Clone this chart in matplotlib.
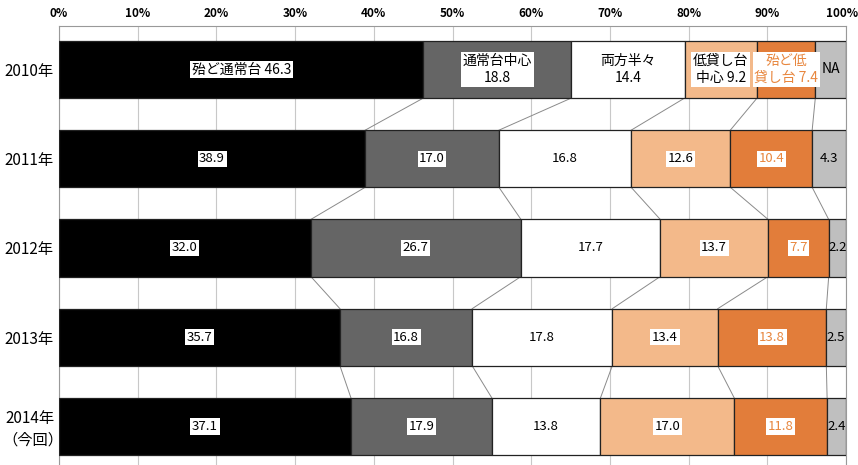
import matplotlib.pyplot as plt
import matplotlib.transforms as mtransforms
import numpy as np

plt.rcParams['font.family'] = ['Noto Sans CJK JP', 'DejaVu Sans']

# Survey answers by year (%)
years = ['2010年', '2011年', '2012年', '2013年', '2014年']
last_note = '（今回）'
mostly_normal = [46.3, 38.9, 32.0, 35.7, 37.1]
normal_center = [18.8, 17.0, 26.7, 16.8, 17.9]
half_half = [14.4, 16.8, 17.7, 17.8, 13.8]
low_center = [9.2, 12.6, 13.7, 13.4, 17.0]
mostly_low = [7.4, 10.4, 7.7, 13.8, 11.8]
na = [3.9, 4.3, 2.2, 2.5, 2.4]

# Category names shown only on the first row
first_row_labels = ['殆ど通常台 46.3', '通常台中心\n18.8', '両方半々\n14.4',
                    '低貸し台\n中心 9.2', '殆ど低\n貸し台 7.4', 'NA']

series = [mostly_normal, normal_center, half_half, low_center, mostly_low, na]
colors = ['#000000', '#656565', '#ffffff', '#f3b98a', '#e27d3a', '#bfbfbf']
text_colors = ['black', 'black', 'black', 'black', '#e8873f', 'black']
boxed = [True, True, False, True, True, False]

fig = plt.figure(figsize=(8.58, 4.65), dpi=100)
ax = fig.add_axes([59 / 858, 0, (846 - 59) / 858, 1 - 26 / 465])

y = np.arange(len(years))
bar_h = 0.64
data = np.array(series)
cum = np.vstack([np.zeros(len(years)), np.cumsum(data, axis=0)])

for i, vals in enumerate(series):
    ax.barh(y, vals, left=cum[i], height=bar_h, color=colors[i],
            edgecolor='#222222', linewidth=0.9, zorder=3)
    for j, v in enumerate(vals):
        xc = cum[i][j] + v / 2
        if j == 0:
            txt = first_row_labels[i]
            fs = 10
        else:
            txt = f'{v:.1f}'
            fs = 9.5
        box = dict(boxstyle='square,pad=0.12', fc='white', ec='none') if boxed[i] else None
        ax.text(xc, y[j], txt, ha='center', va='center', fontsize=fs,
                color=text_colors[i], bbox=box, zorder=5, linespacing=1.3)

# Connector lines between segment boundaries of neighbouring rows
for j in range(len(years) - 1):
    for k in range(1, len(series)):
        ax.plot([cum[k][j], cum[k][j + 1]],
                [y[j] + bar_h / 2, y[j + 1] - bar_h / 2],
                color='#8a8a8a', lw=0.7, zorder=2)

ax.set_xlim(0, 100)
ax.set_ylim(4 + (465 - 426.5) / 89.3, -43.5 / 89.3)
ax.set_xticks(np.arange(0, 101, 10))
ax.set_xticklabels([f'{t}%' for t in range(0, 101, 10)], fontsize=8.5,
                   fontweight='bold')
ax.xaxis.tick_top()
ax.tick_params(axis='x', length=0, pad=4)
# keep the 100% label inside the figure
last = ax.get_xticklabels()[-1]
last.set_transform(last.get_transform() +
                   mtransforms.ScaledTranslation(-4 / 100, 0, fig.dpi_scale_trans))

# year labels; the last row gets a second line underneath
ax.set_yticks(y[:-1])
ax.set_yticklabels(years[:-1], fontsize=11)
ax.tick_params(axis='y', length=0, pad=4)
lbl_tr = mtransforms.blended_transform_factory(ax.transAxes, ax.transData)
ax.annotate(years[-1], xy=(0, y[-1]), xycoords=lbl_tr, xytext=(-3, 6),
            textcoords='offset points', ha='right', va='center', fontsize=11,
            annotation_clip=False)
ax.annotate(last_note, xy=(0, y[-1]), xycoords=lbl_tr, xytext=(-18.5, -10),
            textcoords='offset points', ha='center', va='center', fontsize=11,
            annotation_clip=False)

ax.grid(axis='x', color='#c8c8c8', lw=0.8, zorder=0)
for side in ['left', 'top', 'right']:
    ax.spines[side].set_color('#999999')
ax.spines['bottom'].set_visible(False)

fig.savefig('out.png', dpi=100)
